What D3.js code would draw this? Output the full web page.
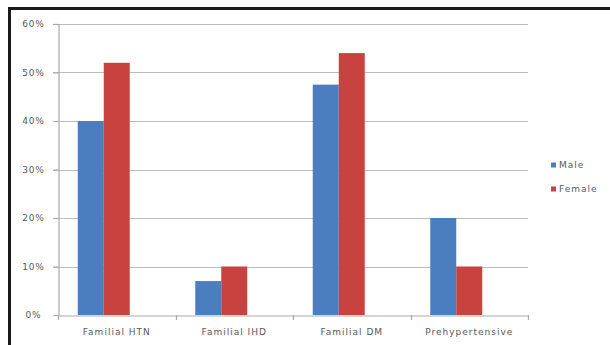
<!DOCTYPE html>
<html>
<head>
<meta charset="utf-8">
<script src="https://cdn.jsdelivr.net/npm/d3@7/dist/d3.min.js"></script>
<style>
  html, body { margin: 0; padding: 0; background: #fff; }
  svg { display: block; }
  text { font-family: "DejaVu Sans", Verdana, sans-serif; fill: #5a5a5a; }
</style>
</head>
<body>
<svg id="chart" width="610" height="345"></svg>
<script>
// Chart data
const categories = ["Familial HTN", "Familial IHD", "Familial DM", "Prehypertensive"];
const seriesNames = ["Male", "Female"];
const maleValues = [40, 7, 47.5, 20];
const femaleValues = [52, 10, 54, 10];
const yTicks = [0, 10, 20, 30, 40, 50, 60];
const seriesColors = ["#4a7ebf", "#c8433f"];

const svg = d3.select("#chart");

// Outer frame of the chart area
svg.append("rect")
  .attr("x", 9.5).attr("y", 8.5)
  .attr("width", 640).attr("height", 360)
  .attr("fill", "none")
  .attr("stroke", "#1a1a1a")
  .attr("stroke-width", 3);

const plot = { left: 58, right: 528, top: 24, bottom: 315 };

const x = d3.scaleBand()
  .domain(categories)
  .range([plot.left, plot.right]);

const y = d3.scaleLinear()
  .domain([0, 60])
  .range([plot.bottom, plot.top]);

// Horizontal gridlines
svg.append("g")
  .selectAll("line")
  .data(yTicks.filter(d => d > 0))
  .join("line")
  .attr("x1", plot.left - 5)
  .attr("x2", plot.right)
  .attr("y1", d => Math.round(y(d)) + 0.5)
  .attr("y2", d => Math.round(y(d)) + 0.5)
  .attr("stroke", "#bcbcbc")
  .attr("stroke-width", 1.2);

// Bars: two series per category, offset within each band
const barW = 26;
const groupShift = -13;
const rows = categories.map((c, i) => ({ cat: c, values: [maleValues[i], femaleValues[i]] }));

const groups = svg.append("g")
  .selectAll("g")
  .data(rows)
  .join("g")
  .attr("transform", d => `translate(${x(d.cat) + x.bandwidth() / 2 + groupShift - barW},0)`);

groups.selectAll("rect")
  .data(d => d.values.map((v, k) => ({ v, k })))
  .join("rect")
  .attr("x", d => d.k * barW)
  .attr("y", d => y(d.v))
  .attr("width", barW)
  .attr("height", d => y(0) - y(d.v))
  .attr("fill", d => seriesColors[d.k]);

// Y axis
const yAxis = svg.append("g")
  .attr("transform", `translate(${plot.left + 0.5},0)`)
  .call(d3.axisLeft(y).tickValues(yTicks).tickSize(5).tickFormat(d => d + "%"));
yAxis.select(".domain").attr("stroke", "#ababab").attr("stroke-width", 1.2);
yAxis.selectAll(".tick line").attr("stroke", "#ababab").attr("stroke-width", 1.2);
yAxis.selectAll(".tick text")
  .attr("x", -25)
  .attr("text-anchor", "middle")
  .style("font-size", "9px")
  .style("letter-spacing", "0.8px")
  .style("fill", "#5a5a5a");

// X axis
const xAxis = svg.append("g")
  .attr("transform", `translate(0,${plot.bottom + 0.5})`)
  .call(d3.axisBottom(x).tickSize(0).tickPadding(13));
xAxis.select(".domain").attr("stroke", "#ababab").attr("stroke-width", 1.2);
xAxis.selectAll(".tick text")
  .style("font-size", "9px")
  .style("letter-spacing", "1px")
  .style("fill", "#5a5a5a");

// Category separators on the x axis
svg.append("g")
  .selectAll("line")
  .data(categories.map(c => x(c)).concat([plot.right]))
  .join("line")
  .attr("x1", d => Math.round(d) + 0.5)
  .attr("x2", d => Math.round(d) + 0.5)
  .attr("y1", plot.bottom)
  .attr("y2", plot.bottom + 5)
  .attr("stroke", "#ababab")
  .attr("stroke-width", 1.2);

// Legend
const legend = svg.append("g")
  .attr("transform", "translate(551,165)");
const items = legend.selectAll("g")
  .data(seriesNames)
  .join("g")
  .attr("transform", (d, i) => `translate(0,${i * 24})`);
items.append("rect")
  .attr("x", 0).attr("y", -2.5)
  .attr("width", 5).attr("height", 5)
  .attr("fill", (d, i) => seriesColors[i]);
items.append("text")
  .attr("x", 8).attr("y", 3)
  .style("font-size", "9px")
  .style("letter-spacing", "1px")
  .text(d => d);
</script>
</body>
</html>
